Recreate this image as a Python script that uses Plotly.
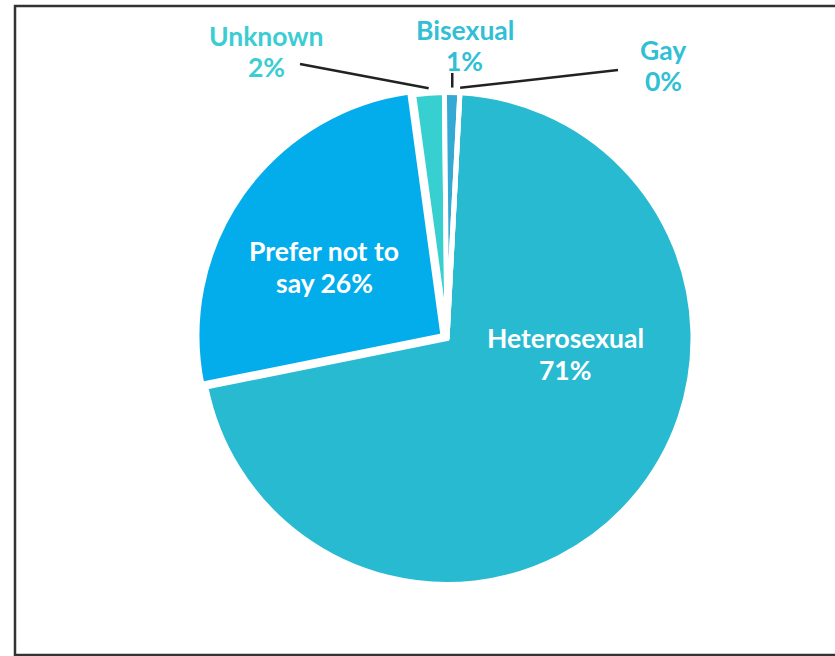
import math
import plotly.graph_objects as go

# Survey responses by sexual orientation (percent of respondents)
categories = ["Heterosexual", "Prefer not to say", "Unknown", "Bisexual", "Gay"]
shares = [71, 26, 2, 1, 0]
slice_colors = ["#28bad1", "#03adec", "#38cfd1", "#34a9d3", "#2f9fd0"]
pulls = [0, 0.02, 0, 0, 0]

W, H = 835, 656
CX, CY = 447, 338.5        # pie centre (px)
R = 246                    # pie radius (px)
ROTATION = 3.0             # start angle of the first slice, clockwise from 12 o'clock

max_pull = max(pulls)
half = R * (1 + max_pull)
domain_x = [(CX - half) / W, (CX + half) / W]
domain_y = [1 - (CY + half) / H, 1 - (CY - half) / H]

fig = go.Figure(
    go.Pie(
        labels=categories,
        values=shares,
        sort=False,
        direction="clockwise",
        rotation=ROTATION,
        pull=pulls,
        marker=dict(colors=slice_colors, line=dict(color="white", width=5)),
        textinfo="none",
        hoverinfo="label+percent",
        showlegend=False,
        domain=dict(x=domain_x, y=domain_y),
    )
)

FONT = "Lato, 'Open Sans', sans-serif"
LABEL_SIZE = 26.5


def px_to_paper(x, y):
    return x / W, 1 - y / H


def add_label(lines, x, y, color, size=LABEL_SIZE, spacing=32):
    for i, line in enumerate(lines):
        px, py = px_to_paper(x, y + i * spacing)
        fig.add_annotation(
            x=px, y=py, xref="paper", yref="paper",
            text=f"<b>{line}</b>", showarrow=False,
            xanchor="center", yanchor="middle",
            font=dict(family=FONT, size=size, color=color),
        )


total = sum(shares)


def mid_angle(i):
    start = ROTATION + 360 * sum(shares[:i]) / total
    return start + 180 * shares[i] / total


def edge_point(i, extra=5):
    a = math.radians(mid_angle(i))
    return CX + (R + extra) * math.sin(a), CY - (R + extra) * math.cos(a)


# Inside labels
add_label(["Heterosexual", f"{shares[0]}%"], 565, 338, "white")
add_label(["Prefer not to", f"say {shares[1]}%"], 324, 251, "white")

# Outside labels for the thin slices, with leader lines
outside = [
    (2, ["Unknown", f"{shares[2]}%"], 266, 36, "#3bcdd2", (300, 64)),
    (3, ["Bisexual", f"{shares[3]}%"], 465, 30, "#31bfd6", None),
    (4, ["Gay", f"{shares[4]}%"], 663, 50, "#31bfd6", (618, 70)),
]
for idx, lines, lx, ly, col, tail in outside:
    add_label(lines, lx, ly, col, spacing=31)
    tx, ty = edge_point(idx)
    if tail is None:
        tail = (tx, 73)
    x0, y0 = px_to_paper(*tail)
    x1, y1 = px_to_paper(tx, ty)
    fig.add_shape(type="line", xref="paper", yref="paper",
                  x0=x0, y0=y0, x1=x1, y1=y1,
                  line=dict(color="#222222", width=2.5))

# Outer frame
fx0, fy0 = px_to_paper(15, 655)
fx1, fy1 = px_to_paper(845, 6)
fig.add_shape(type="rect", xref="paper", yref="paper",
              x0=fx0, y0=fy0, x1=fx1, y1=fy1,
              line=dict(color="#333333", width=2.5), layer="above")

fig.update_layout(
    width=W, height=H,
    margin=dict(l=0, r=0, t=0, b=0),
    paper_bgcolor="white", plot_bgcolor="white",
)

fig.write_html("out.html")
